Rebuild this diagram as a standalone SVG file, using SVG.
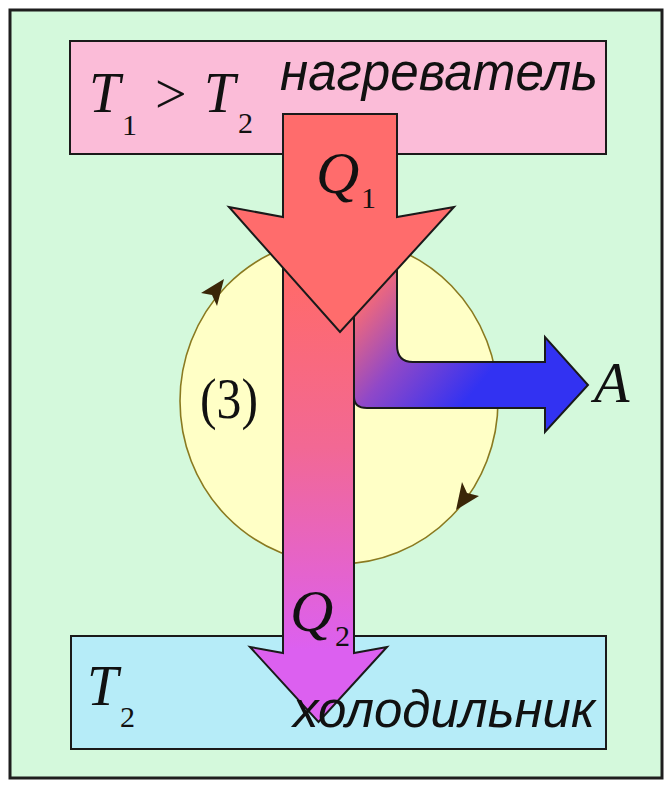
<svg xmlns="http://www.w3.org/2000/svg" width="665" height="789" viewBox="0 0 665 789">
<defs>
<style>
.box{stroke:#1a1a1a;stroke-width:2}
.arr{stroke:#1a1a1a;stroke-width:2;stroke-linejoin:miter}
.serif{font-family:"Liberation Serif","Times New Roman",serif;fill:#111}
.it{font-style:italic}
.sub{font-family:"Liberation Serif","Times New Roman",serif;fill:#111;font-size:30px}
.sans{font-family:"Liberation Sans",Arial,sans-serif;font-style:italic;fill:#111}
.mk{fill:#3a2608}
</style>
<linearGradient id="gShaft" gradientUnits="userSpaceOnUse" x1="0" y1="280" x2="0" y2="650">
<stop offset="0" stop-color="#ff6a6a"/>
<stop offset="0.45" stop-color="#f26894"/>
<stop offset="1" stop-color="#dc60f0"/>
</linearGradient>
<linearGradient id="gBranch" gradientUnits="userSpaceOnUse" x1="365" y1="300" x2="475" y2="390">
<stop offset="0" stop-color="#f46a78"/>
<stop offset="0.45" stop-color="#9048c8"/>
<stop offset="1" stop-color="#3232f2"/>
</linearGradient>
</defs>
<rect x="0" y="0" width="665" height="789" fill="#ffffff"/>
<g id="frame">
<rect x="10" y="10" width="652" height="768" fill="#d4f9dc" stroke="#1e1e1e" stroke-width="3"/>
</g>
<g id="cycle">
<ellipse cx="339" cy="401" rx="159" ry="163" fill="#ffffc6" stroke="#8a7a20" stroke-width="1.6"/>
<path class="mk" d="M224,279 L201,293 L212,295 L217,306 Z"/>
<path class="mk" d="M456,510 L479,496 L467,493 L462,482 Z"/>
<text class="serif" x="200" y="418" font-size="58" textLength="58" lengthAdjust="spacingAndGlyphs">(3)</text>
</g>
<g id="heater">
<rect class="box" x="70" y="41" width="536" height="113" fill="#fbbcd8"/>
<text class="serif it" x="89" y="112" font-size="56">T</text>
<text class="sub" x="122" y="135">1</text>
<text class="serif" x="155" y="113" font-size="56">&gt;</text>
<text class="serif it" x="204" y="112" font-size="56">T</text>
<text class="sub" x="238" y="133">2</text>
<text class="sans" x="280" y="90" font-size="54" textLength="318" lengthAdjust="spacingAndGlyphs">нагреватель</text>
</g>
<g id="cooler">
<rect class="box" x="71" y="636" width="535" height="113" fill="#b6ecf8"/>
<text class="serif it" x="87" y="705" font-size="56">T</text>
<text class="sub" x="120" y="727">2</text>
</g>
<g id="connectors">
<path id="work" class="arr" fill="url(#gBranch)" d="M354,250 L397,250 L397,345 Q397,362 413,362 L545,362 L545,337 L588,385 L545,432 L545,408 L367,408 Q354,408 354,397 Z"/>
<path id="q2" class="arr" fill="url(#gShaft)" d="M283,250 L354,250 L354,653 L387,647 L318.5,722 L250,647 L283,653 Z"/>
<path id="q1" class="arr" fill="#ff6c6c" d="M283,114 L397,114 L397,217 L454,207 L340,332 L229,207 L283,217 Z"/>
<text class="serif it" x="316" y="193" font-size="60">Q</text>
<text class="sub" x="361" y="208">1</text>
<text class="serif it" x="290" y="631" font-size="60">Q</text>
<text class="sub" x="335" y="646">2</text>
<text class="serif it" x="594" y="402" font-size="58">A</text>
</g>
<g id="cooler-label">
<text class="sans" x="293" y="727" font-size="52" textLength="302" lengthAdjust="spacingAndGlyphs">холодильник</text>
</g>
</svg>
